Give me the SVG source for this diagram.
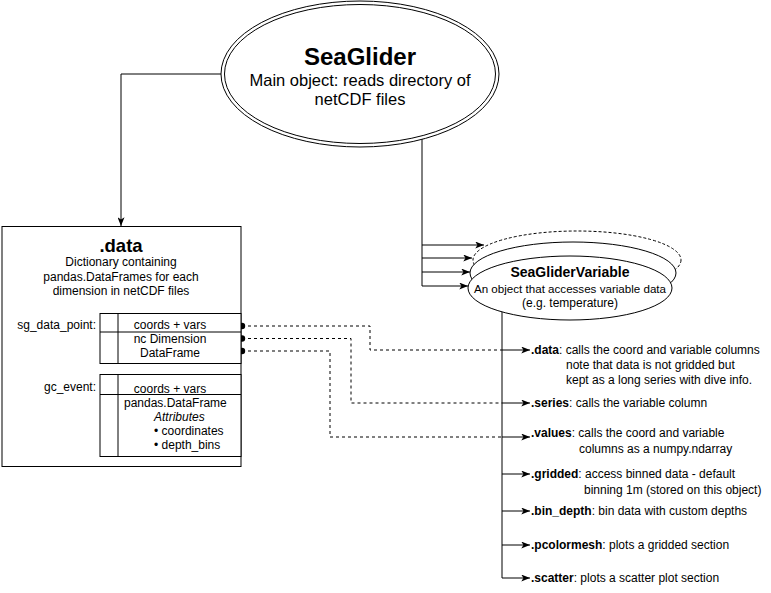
<svg xmlns="http://www.w3.org/2000/svg" width="771" height="593" viewBox="0 0 771 593">
<defs>
<marker id="arr" viewBox="0 0 10 8" markerWidth="9" markerHeight="7" refX="10" refY="4" orient="auto" markerUnits="userSpaceOnUse">
<path d="M0,0 L10,4 L0,8 L2.5,4 z" fill="#000"/>
</marker>
<style>
text{font-family:"Liberation Sans",Arial,sans-serif;fill:#000;dominant-baseline:central}
.s12{font-size:12px}
.c{text-anchor:middle}
.r{text-anchor:end}
.b{font-weight:bold}
.ln{fill:none;stroke:#000;stroke-width:1}
.dash{fill:none;stroke:#000;stroke-width:1;stroke-dasharray:3 3}
.sh{fill:#fff;stroke:#000;stroke-width:1}
</style>
</defs>
<rect width="771" height="593" fill="#fff"/>

<g id="connectors">
<path class="ln" d="M221,74 H121 V226" marker-end="url(#arr)"/>
<path class="ln" d="M422,139 V286"/>
<path class="ln" d="M422,245 H484" marker-end="url(#arr)"/>
<path class="ln" d="M422,258 H472" marker-end="url(#arr)"/>
<path class="ln" d="M422,272 H470" marker-end="url(#arr)"/>
<path class="ln" d="M422,286 H468" marker-end="url(#arr)"/>
<path class="ln" d="M502,311 V578 H530" marker-end="url(#arr)"/>
<path class="ln" d="M502,350 H530" marker-end="url(#arr)"/>
<path class="ln" d="M502,403 H530" marker-end="url(#arr)"/>
<path class="ln" d="M502,437 H530" marker-end="url(#arr)"/>
<path class="ln" d="M502,474 H530" marker-end="url(#arr)"/>
<path class="ln" d="M502,511 H530" marker-end="url(#arr)"/>
<path class="ln" d="M502,545 H530" marker-end="url(#arr)"/>
<path class="dash" d="M242,326 H370 V350 H502"/>
<path class="dash" d="M242,338.5 H351 V403 H502"/>
<path class="dash" d="M242,351 H330 V437 H502"/>
<circle cx="242" cy="326" r="3.2" fill="#000"/>
<circle cx="242" cy="338.5" r="3.2" fill="#000"/>
<circle cx="242" cy="351" r="3.2" fill="#000"/>
</g>

<g id="seaglider">
<ellipse class="sh" cx="360" cy="74" rx="139" ry="73"/>
<ellipse class="sh" cx="360" cy="74" rx="135.5" ry="69.5"/>
<text class="c b" x="360" y="56" style="font-size:24px">SeaGlider</text>
<text class="c" x="360" y="80" style="font-size:16.5px">Main object: reads directory of</text>
<text class="c" x="360" y="99" style="font-size:16.5px">netCDF files</text>
</g>

<g id="data">
<rect class="sh" x="2" y="226.5" width="239" height="240"/>
<text class="c b" x="121" y="245" style="font-size:18.5px">.data</text>
<text class="c s12" x="121" y="262">Dictionary containing</text>
<text class="c s12" x="121" y="276.5">pandas.DataFrames for each</text>
<text class="c s12" x="121" y="291">dimension in netCDF files</text>
<g id="sg_data_point">
<rect class="sh" x="100" y="313.5" width="141" height="50"/>
<path class="ln" d="M118,313.5 V363.5 M100,332 H241"/>
<text class="r s12" x="96" y="325">sg_data_point:</text>
<text class="c s12" x="170" y="325">coords + vars</text>
<text class="c s12" x="170" y="338.5">nc Dimension</text>
<text class="c s12" x="170" y="353">DataFrame</text>
</g>
<g id="gc_event">
<rect class="sh" x="100" y="374.5" width="141" height="82"/>
<path class="ln" d="M118,374.5 V456.5 M100,394.5 H241"/>
<text class="r s12" x="96" y="387">gc_event:</text>
<text class="c s12" x="170" y="389">coords + vars</text>
<text class="s12" x="124" y="403">pandas.DataFrame</text>
<text class="s12" x="154" y="417" font-style="italic">Attributes</text>
<text class="s12" x="154" y="431">• coordinates</text>
<text class="s12" x="154" y="445">• depth_bins</text>
</g>
</g>

<g id="seagliderVariable">
<ellipse class="sh" cx="577" cy="260" rx="104" ry="29" stroke-dasharray="3 2"/>
<ellipse class="sh" cx="573" cy="273" rx="103" ry="31"/>
<ellipse class="sh" cx="570" cy="288" rx="102" ry="32"/>
<text class="c b" x="570" y="272" style="font-size:14px">SeaGliderVariable</text>
<text class="c" x="570" y="288" style="font-size:11.6px">An object that accesses variable data</text>
<text class="c s12" x="570" y="303">(e.g. temperature)</text>
</g>

<g id="methods" class="s12">
<text x="531" y="350"><tspan class="b">.data</tspan>: calls the coord and variable columns</text>
<text x="566" y="365">note that data is not gridded but</text>
<text x="566" y="380">kept as a long series with dive info.</text>
<text x="531" y="403"><tspan class="b">.series</tspan>: calls the variable column</text>
<text x="531" y="433"><tspan class="b">.values</tspan>: calls the coord and variable</text>
<text x="579" y="449">columns as a numpy.ndarray</text>
<text x="531" y="474"><tspan class="b">.gridded</tspan>: access binned data - default</text>
<text x="584" y="490">binning 1m (stored on this object)</text>
<text x="531" y="511"><tspan class="b">.bin_depth</tspan>: bin data with custom depths</text>
<text x="531" y="545"><tspan class="b">.pcolormesh</tspan>: plots a gridded section</text>
<text x="531" y="578"><tspan class="b">.scatter</tspan>: plots a scatter plot section</text>
</g>
</svg>
